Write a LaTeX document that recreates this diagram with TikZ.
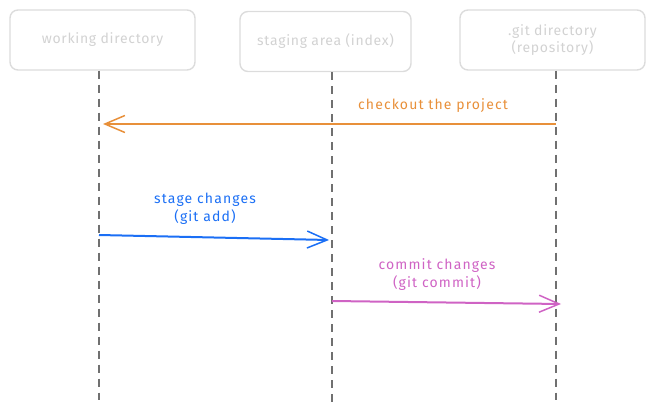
\documentclass[tikz,border=0pt]{standalone}
\usepackage{fontspec}
\setmainfont{Fira Sans}
\usetikzlibrary{arrows.meta}
\definecolor{boxline}{HTML}{DCDCDC}
\definecolor{boxtext}{HTML}{D2D2D2}
\definecolor{lifeline}{HTML}{707070}
\definecolor{orangec}{HTML}{E8903A}
\definecolor{bluec}{HTML}{1B6FF5}
\definecolor{pinkc}{HTML}{CF63C4}
\tikzset{
  x=1pt,y=-1pt,
  actor/.style={draw=boxline,line width=1.4pt,rounded corners=8pt,minimum height=60pt,
    text=boxtext,font=\fontsize{14}{17}\selectfont\addfontfeatures{LetterSpace=5},align=center,inner sep=0pt},
  life/.style={draw=lifeline,line width=1.5pt,dash pattern=on 8pt off 6pt},
  msg/.style={line width=2pt,-{Straight Barb[length=20pt,width=17pt,line width=1.5pt]}},
  lbl/.style={font=\fontsize{14}{18}\selectfont\addfontfeatures{LetterSpace=8},align=center,inner sep=0pt}
}
\begin{document}
\begin{tikzpicture}
\useasboundingbox (0,0) rectangle (655,412);
\node[actor,minimum width=185pt] (wd) at (102.5,40) {working directory};
\node[actor,minimum width=171pt] (sa) at (325.5,41.5) {staging area (index)};
\node[actor,minimum width=185pt] (gd) at (552.5,40) {.git directory\\(repository)};
\coordinate (wdb) at (99,400);
\coordinate (sab) at (332,402);
\coordinate (gdb) at (556,400);
\draw[life] (wd.south -| wdb) -- (wdb);
\draw[life] (sa.south -| sab) -- (sab);
\draw[life] (gd.south -| gdb) -- (gdb);
\coordinate (o1) at (556,124);
\coordinate (o2) at (103,124);
\draw[msg,draw=orangec] (o1) -- (o2);
\node[lbl,text=orangec] (ol) at (433,106) {checkout the project};
\coordinate (b1) at (99,235);
\coordinate (b2) at (329,240);
\draw[msg,draw=bluec] (b1) -- (b2);
\node[lbl,text=bluec] (bl) at (205,209) {stage changes\\(git add)};
\coordinate (p1) at (332,301);
\coordinate (p2) at (561,304);
\draw[msg,draw=pinkc] (p1) -- (p2);
\node[lbl,text=pinkc] (pl) at (437,275) {commit changes\\(git commit)};
\end{tikzpicture}
\end{document}
